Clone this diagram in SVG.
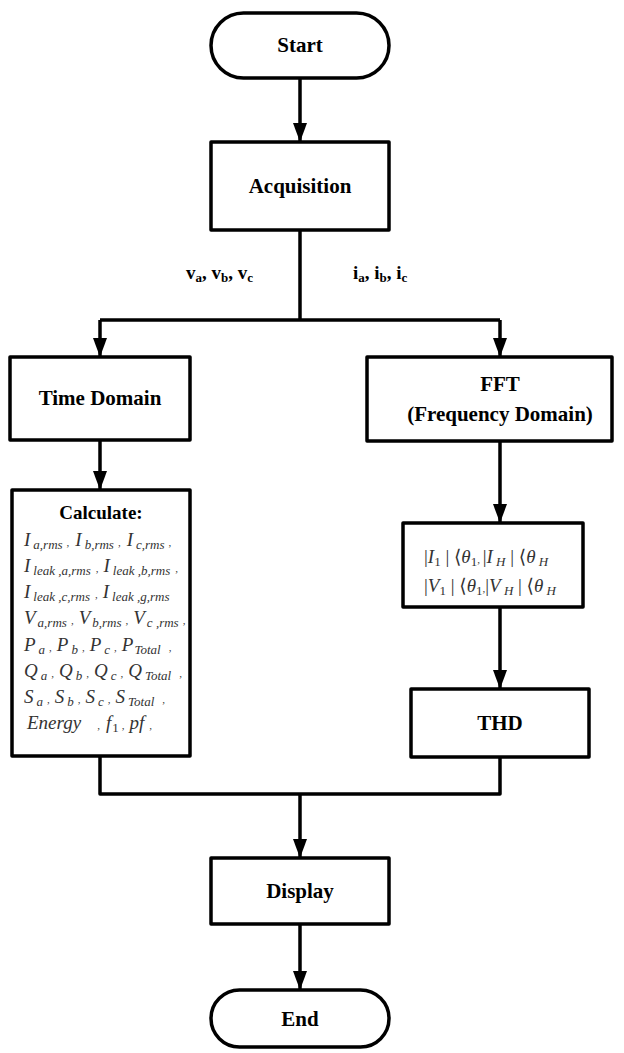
<svg xmlns="http://www.w3.org/2000/svg" width="624" height="1053" viewBox="0 0 624 1053">
  <style>
    .box { fill: #ffffff; stroke: #000000; stroke-width: 3.5; stroke-linejoin: round; }
    .lbl { font-family: "Liberation Serif", "DejaVu Serif", serif; font-weight: bold; font-size: 21px; fill: #000000; text-anchor: middle; }
    .io { font-family: "Liberation Serif", "DejaVu Serif", serif; font-weight: bold; font-size: 19px; fill: #000000; }
    .io .s { font-size: 13px; }
    .math { font-family: "Liberation Serif", "DejaVu Serif", serif; font-style: italic; font-size: 19px; fill: #333333; }
    .math .s { font-size: 13px; }
    .math .c { font-size: 11px; font-style: normal; }
    .math .u { font-style: normal; }
    .wire { fill: none; stroke: #000000; stroke-width: 3.5; stroke-linejoin: round; }
  </style>
  <defs>
    <!-- filled arrowhead, drawn along +x so orient="auto" points it down the wire -->
    <marker id="arrow" viewBox="0 0 19 14" refX="19" refY="7" markerWidth="19" markerHeight="14" markerUnits="userSpaceOnUse" orient="auto">
      <path d="M0,0 L19,7 L0,14 Z" fill="#000000"/>
    </marker>
  </defs>
  <rect width="624" height="1053" fill="#ffffff"/>

  <!-- connectors -->
  <g id="connectors">
    <line class="wire" x1="300" y1="78" x2="300" y2="142" marker-end="url(#arrow)"/>
    <polyline class="wire" points="300,230 300,320"/>
    <polyline class="wire" points="100,320 500,320"/>
    <line class="wire" x1="100" y1="320" x2="100" y2="357" marker-end="url(#arrow)"/>
    <line class="wire" x1="500" y1="320" x2="500" y2="357" marker-end="url(#arrow)"/>
    <line class="wire" x1="100" y1="440" x2="100" y2="490" marker-end="url(#arrow)"/>
    <line class="wire" x1="500" y1="441" x2="500" y2="523" marker-end="url(#arrow)"/>
    <line class="wire" x1="500" y1="607" x2="500" y2="689" marker-end="url(#arrow)"/>
    <polyline class="wire" points="100,756 100,794 500,794 500,757"/>
    <line class="wire" x1="300" y1="794" x2="300" y2="858" marker-end="url(#arrow)"/>
    <line class="wire" x1="300" y1="924" x2="300" y2="990" marker-end="url(#arrow)"/>
  </g>

  <!-- signal labels -->
  <g id="labels">
    <text class="io" x="186" y="279">v<tspan class="s" dy="3">a</tspan><tspan dy="-3">, v</tspan><tspan class="s" dy="3">b</tspan><tspan dy="-3">, v</tspan><tspan class="s" dy="3">c</tspan></text>
    <text class="io" x="353" y="279">i<tspan class="s" dy="3">a</tspan><tspan dy="-3">, i</tspan><tspan class="s" dy="3">b</tspan><tspan dy="-3">, i</tspan><tspan class="s" dy="3">c</tspan></text>
  </g>

  <g id="start">
    <rect class="box" x="211" y="13" width="178" height="65" rx="32.5"/>
    <text class="lbl" x="300" y="52">Start</text>
  </g>

  <g id="acquisition">
    <rect class="box" x="211" y="142" width="178" height="88"/>
    <text class="lbl" x="300" y="193">Acquisition</text>
  </g>

  <g id="time-domain">
    <rect class="box" x="10" y="357" width="180" height="83"/>
    <text class="lbl" x="100" y="405">Time Domain</text>
  </g>

  <g id="fft">
    <rect class="box" x="367" y="357" width="245" height="84"/>
    <text class="lbl" x="500" y="391">FFT</text>
    <text class="lbl" x="500" y="421">(Frequency Domain)</text>
  </g>

  <g id="calculate">
    <rect class="box" x="12" y="490" width="178" height="266"/>
    <text class="lbl" x="101" y="519" style="font-size:19px">Calculate:</text>
    <text class="math" x="24" y="546">I<tspan class="s" dx="3" dy="3">a,rms</tspan><tspan class="c" dx="4" dy="-3">,</tspan><tspan dx="6">I</tspan><tspan class="s" dx="3" dy="3">b,rms</tspan><tspan class="c" dx="4" dy="-3">,</tspan><tspan dx="6">I</tspan><tspan class="s" dx="3" dy="3">c,rms</tspan><tspan class="c" dx="4" dy="-3">,</tspan></text>
    <text class="math" x="24" y="572">I<tspan class="s" dx="3" dy="3">leak ,a,rms</tspan><tspan class="c" dx="5" dy="-3">,</tspan><tspan dx="5">I</tspan><tspan class="s" dx="3" dy="3">leak ,b,rms</tspan><tspan class="c" dx="5" dy="-3">,</tspan></text>
    <text class="math" x="24" y="598">I<tspan class="s" dx="3" dy="3">leak ,c,rms</tspan><tspan class="c" dx="5" dy="-3">,</tspan><tspan dx="5">I</tspan><tspan class="s" dx="3" dy="3">leak ,g,rms</tspan></text>
    <text class="math" x="24" y="624">V<tspan class="s" dx="2" dy="3">a,rms</tspan><tspan class="c" dx="4" dy="-3">,</tspan><tspan dx="5">V</tspan><tspan class="s" dx="2" dy="3">b,rms</tspan><tspan class="c" dx="4" dy="-3">,</tspan><tspan dx="5">V</tspan><tspan class="s" dx="2" dy="3">c ,rms</tspan><tspan class="c" dx="4" dy="-3">,</tspan></text>
    <text class="math" x="24" y="651">P<tspan class="s" dx="3" dy="3">a</tspan><tspan class="c" dx="4" dy="-3">,</tspan><tspan dx="5">P</tspan><tspan class="s" dx="3" dy="3">b</tspan><tspan class="c" dx="4" dy="-3">,</tspan><tspan dx="5">P</tspan><tspan class="s" dx="3" dy="3">c</tspan><tspan class="c" dx="4" dy="-3">,</tspan><tspan dx="5">P</tspan><tspan class="s" dx="1" dy="3">Total</tspan><tspan class="c" dx="8" dy="-3">,</tspan></text>
    <text class="math" x="24" y="677">Q<tspan class="s" dx="3" dy="3">a</tspan><tspan class="c" dx="4" dy="-3">,</tspan><tspan dx="5">Q</tspan><tspan class="s" dx="3" dy="3">b</tspan><tspan class="c" dx="4" dy="-3">,</tspan><tspan dx="5">Q</tspan><tspan class="s" dx="3" dy="3">c</tspan><tspan class="c" dx="4" dy="-3">,</tspan><tspan dx="5">Q</tspan><tspan class="s" dx="3" dy="3">Total</tspan><tspan class="c" dx="8" dy="-3">,</tspan></text>
    <text class="math" x="24" y="703">S<tspan class="s" dx="3" dy="3">a</tspan><tspan class="c" dx="4" dy="-3">,</tspan><tspan dx="5">S</tspan><tspan class="s" dx="3" dy="3">b</tspan><tspan class="c" dx="4" dy="-3">,</tspan><tspan dx="5">S</tspan><tspan class="s" dx="3" dy="3">c</tspan><tspan class="c" dx="4" dy="-3">,</tspan><tspan dx="5">S</tspan><tspan class="s" dx="3" dy="3">Total</tspan><tspan class="c" dx="8" dy="-3">,</tspan></text>
    <text class="math" x="27" y="729">Energy<tspan class="c" dx="16">,</tspan><tspan dx="6">f</tspan><tspan class="s u" dx="1" dy="3">1</tspan><tspan class="c" dx="3" dy="-3">,</tspan><tspan dx="5">pf</tspan><tspan class="c" dx="5">,</tspan></text>
  </g>

  <g id="phasors">
    <rect class="box" x="403" y="523" width="180" height="84"/>
    <text class="math" x="424" y="563"><tspan class="u">|</tspan>I<tspan class="s u" dy="3">1</tspan><tspan class="u" dy="-3"> | ⟨</tspan>θ<tspan class="s u" dy="3">1</tspan><tspan class="c" dy="-3">, </tspan><tspan class="u">|</tspan>I<tspan class="s" dy="3"> H</tspan><tspan class="u" dy="-3"> | ⟨</tspan>θ<tspan class="s" dy="3"> H</tspan></text>
    <text class="math" x="424" y="592"><tspan class="u">|</tspan>V<tspan class="s u" dy="3">1</tspan><tspan class="u" dy="-3"> | ⟨</tspan>θ<tspan class="s u" dy="3">1</tspan><tspan class="c" dy="-3">,</tspan><tspan class="u">|</tspan>V<tspan class="s" dy="3"> H</tspan><tspan class="u" dy="-3"> | ⟨</tspan>θ<tspan class="s" dy="3"> H</tspan></text>
  </g>

  <g id="thd">
    <rect class="box" x="411" y="689" width="178" height="68"/>
    <text class="lbl" x="500" y="730">THD</text>
  </g>

  <g id="display">
    <rect class="box" x="211" y="858" width="178" height="66"/>
    <text class="lbl" x="300" y="898">Display</text>
  </g>

  <g id="end">
    <rect class="box" x="211" y="990" width="178" height="57" rx="28.5"/>
    <text class="lbl" x="300" y="1026">End</text>
  </g>
</svg>
